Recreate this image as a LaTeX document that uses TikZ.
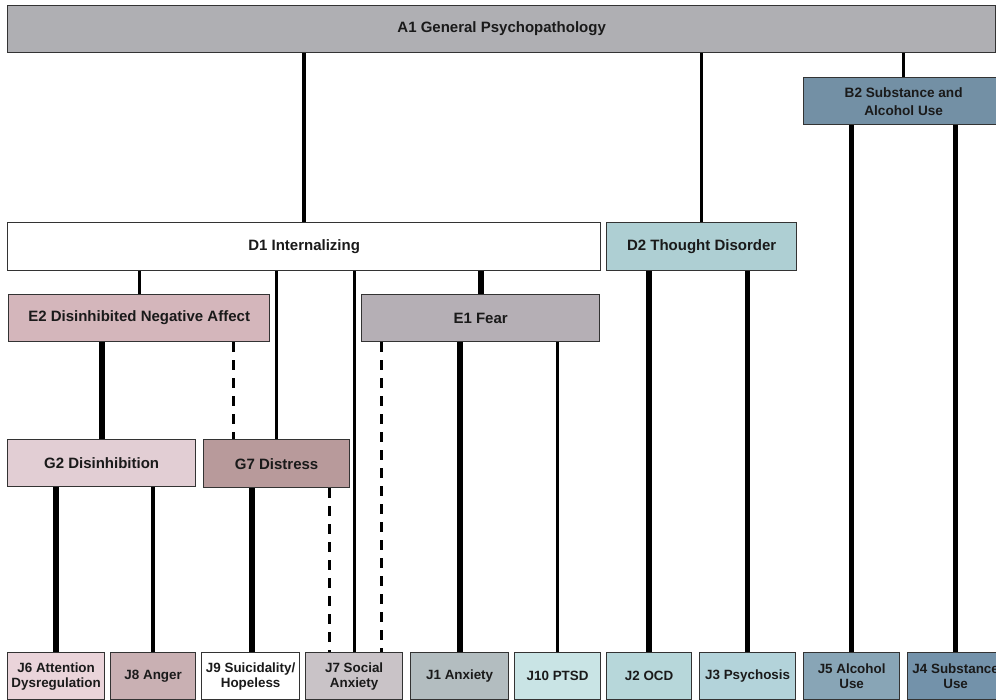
\documentclass[tikz,border=0pt]{standalone}
\usepackage{fontspec}
\setmainfont{Liberation Sans}
\definecolor{cA1}{HTML}{AFAFB3}
\definecolor{cB2}{HTML}{7390A5}
\definecolor{cD2}{HTML}{AECFD3}
\definecolor{cE2}{HTML}{D4B6BB}
\definecolor{cE1}{HTML}{B5AFB5}
\definecolor{cG2}{HTML}{E2CED4}
\definecolor{cG7}{HTML}{B89A9B}
\definecolor{cJ6}{HTML}{EAD4DA}
\definecolor{cJ8}{HTML}{C9B0B3}
\definecolor{cJ7}{HTML}{C9C3C7}
\definecolor{cJ1}{HTML}{B3BDC0}
\definecolor{cJ10}{HTML}{C9E4E5}
\definecolor{cJ2}{HTML}{B7D7DA}
\definecolor{cJ3}{HTML}{B3D3DA}
\definecolor{cJ5}{HTML}{88A5B6}
\definecolor{cJ4}{HTML}{7392AA}
\definecolor{bord}{HTML}{333333}
\definecolor{txt}{HTML}{1A1A1A}
\tikzset{
  box/.style={draw=bord, line width=1.3pt, anchor=north west, inner sep=0pt,
    align=center, text=txt, font=\fontsize{15}{17}\selectfont\bfseries},
  jbox/.style={box, minimum height=47pt, font=\fontsize{13.4}{15}\selectfont\bfseries},
  lnA/.style={line width=6pt},
  lnB/.style={line width=4.5pt},
  lnC/.style={line width=3.3pt},
  dline/.style={line width=2.5pt, dash pattern=on 10pt off 8pt},
}
\begin{document}
\begin{tikzpicture}[x=1pt,y=-1pt]
\useasboundingbox (0,0) rectangle (996,700);
\clip (0,0) rectangle (996,700);
\fill[white] (0,0) rectangle (996,700);
% nodes
\node[box, fill=cA1, minimum width=988pt, minimum height=47pt] (A1) at (7,5) {A1 General Psychopathology};
\node[box, fill=cB2, minimum width=200pt, minimum height=47pt, font=\fontsize{13.6}{18}\selectfont\bfseries] (B2) at (803,77) {B2 Substance and\\Alcohol Use};
\node[box, fill=white, minimum width=593pt, minimum height=48pt] (D1) at (7,222) {D1 Internalizing};
\node[box, fill=cD2, minimum width=190pt, minimum height=48pt] (D2) at (606,222) {D2 Thought Disorder};
\node[box, fill=cE2, minimum width=261pt, minimum height=47pt] (E2) at (8,294) {E2 Disinhibited Negative Affect};
\node[box, fill=cE1, minimum width=238pt, minimum height=47pt] (E1) at (361,294) {E1 Fear};
\node[box, fill=cG2, minimum width=188pt, minimum height=47pt] (G2) at (7,439) {G2 Disinhibition};
\node[box, fill=cG7, minimum width=146pt, minimum height=48pt] (G7) at (203,439) {G7 Distress};
\node[jbox, fill=cJ6, minimum width=97pt] (J6) at (7,652) {J6 Attention\\Dysregulation};
\node[jbox, fill=cJ8, minimum width=85pt] (J8) at (110,652) {J8 Anger};
\node[jbox, fill=white, minimum width=98pt] (J9) at (201,652) {J9 Suicidality/\\Hopeless};
\node[jbox, fill=cJ7, minimum width=97pt] (J7) at (305,652) {J7 Social\\Anxiety};
\node[jbox, fill=cJ1, minimum width=98pt] (J1) at (410,652) {J1 Anxiety};
\node[jbox, fill=cJ10, minimum width=86pt] (J10) at (514,652) {J10 PTSD};
\node[jbox, fill=cJ2, minimum width=85pt] (J2) at (606,652) {J2 OCD};
\node[jbox, fill=cJ3, minimum width=96pt] (J3) at (699,652) {J3 Psychosis};
\node[jbox, fill=cJ5, minimum width=96pt] (J5) at (803,652) {J5 Alcohol\\Use};
\node[jbox, fill=cJ4, minimum width=96pt] (J4) at (907,652) {J4 Substance\\Use};
% connectors
\begin{scope}[on background layer/.style={}]
\draw[lnB] (D1.north) -- (D1.north |- A1.south);
\draw[lnC] (D2.north) -- (D2.north |- A1.south);
\draw[lnC] (B2.north) -- (B2.north |- A1.south);
\draw[lnB] (J5.north) -- (J5.north |- B2.south);
\draw[lnB] (J4.north) -- (J4.north |- B2.south);
\draw[lnC] (E2.north) -- (E2.north |- D1.south);
\draw[lnC] (G7.north) -- (G7.north |- D1.south);
\draw[lnC] (J7.north) -- (J7.north |- D1.south);
\draw[lnA] (E1.north) -- (E1.north |- D1.south);
\draw[lnA] (J2.north) -- (J2.north |- D2.south);
\draw[lnB] (J3.north) -- (J3.north |- D2.south);
\draw[lnA] (G2.north) -- (G2.north |- E2.south);
\draw[dline] ([xshift=-43pt]G7.north |- E2.south) -- ([xshift=-43pt]G7.north);
\draw[dline] ([xshift=27.5pt]J7.north |- E1.south) -- ([xshift=27.5pt]J7.north);
\draw[lnA] (J1.north) -- (J1.north |- E1.south);
\draw[lnC] (J10.north) -- (J10.north |- E1.south);
\draw[lnA] (J6.north) -- (J6.north |- G2.south);
\draw[lnB] (J8.north) -- (J8.north |- G2.south);
\draw[lnA] ([xshift=1.5pt]J9.north) -- ([xshift=1.5pt]J9.north |- G7.south);
\draw[dline] ([xshift=-24.5pt]J7.north |- G7.south) -- ([xshift=-24.5pt]J7.north);
\end{scope}
\end{tikzpicture}
\end{document}
